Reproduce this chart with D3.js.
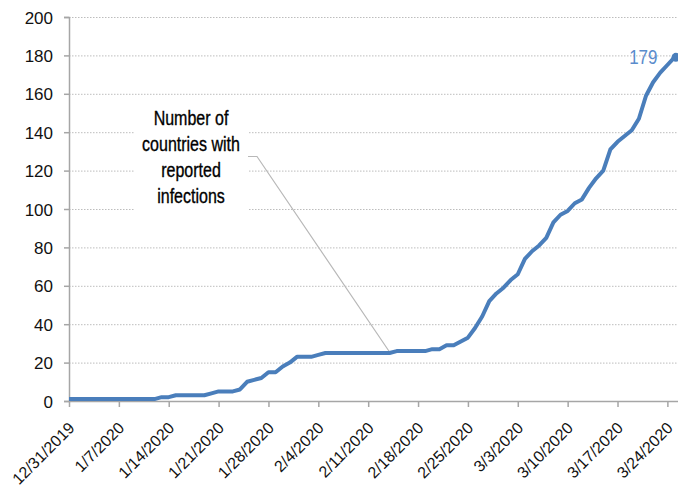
<!DOCTYPE html>
<html>
<head>
<meta charset="utf-8">
<script src="https://cdn.jsdelivr.net/npm/d3@7"></script>
<style>
  body { margin: 0; background: #fff; }
  svg { display: block; }
</style>
</head>
<body>
<div id="chart"></div>
<script>
// countries with reported infections, one value per day from 12/31/2019
let startDate = new Date(2019, 11, 31)
let counts = [
    1, 1, 1, 1, 1, 1, 1, 1, 1, 1, 1, 1, 1,
    2, 2,
    3, 3, 3, 3, 3,
    4,
    5, 5, 5,
    6,
    10, 11, 12, 15, 15, 18, 20,
    23, 23, 23,
    24,
    25, 25, 25, 25, 25, 25, 25, 25, 25, 25,
    26, 26, 26, 26, 26,
    27, 27, 29, 29, 31, 33, 38, 44, 52, 56, 59, 63, 66, 74, 78, 81, 85, 93, 97, 99,
    103, 105, 111, 116, 120, 131, 135, 138, 141, 147, 159, 166, 171, 175, 179
]
let tickLabels = ['12/31/2019', '1/7/2020', '1/14/2020', '1/21/2020', '1/28/2020', '2/4/2020',
    '2/11/2020', '2/18/2020', '2/25/2020', '3/3/2020', '3/10/2020', '3/17/2020', '3/24/2020']
let yTicks = [0, 20, 40, 60, 80, 100, 120, 140, 160, 180, 200]
let noteLines = ['Number of', 'countries with', 'reported', 'infections']
let noteDay = 45

let data = counts.map((v, i) => ({ date: d3.timeDay.offset(startDate, i), value: v }))
let tickDates = tickLabels.map(t => d3.timeParse('%m/%d/%Y')(t))

let svgWidth = 678, svgHeight = 494
let plotLeft = 69, plotRight = 678, plotTop = 17, plotBottom = 401
let font = "'Liberation Sans', Arial, sans-serif"

let svg = d3.select('#chart').append('svg')
    .attr('width', svgWidth)
    .attr('height', svgHeight)

let x = d3.scaleTime()
    .domain([startDate, data[data.length - 1].date])
    .range([plotLeft, 674.5])

let y = d3.scaleLinear()
    .domain([0, 200])
    .range([plotBottom, plotTop])

// gridlines
svg.append('g')
    .selectAll('line')
    .data(yTicks.filter(d => d > 0))
    .enter()
    .append('line')
        .attr('x1', plotLeft)
        .attr('x2', plotRight)
        .attr('y1', d => y(d) + 0.5)
        .attr('y2', d => y(d) + 0.5)
        .attr('stroke', '#bdbdbd')
        .attr('stroke-width', 1)
        .attr('stroke-dasharray', '1.5,1.5')

// y axis
let yAxis = svg.append('g')
    .attr('transform', `translate(${plotLeft}, 0)`)
    .call(d3.axisLeft(y).tickValues(yTicks).tickSize(5).tickPadding(11))
yAxis.select('.domain').attr('stroke', '#a6a6a6').attr('stroke-width', 1.5)
yAxis.selectAll('.tick line').attr('stroke', '#a6a6a6').attr('stroke-width', 1.5)
yAxis.selectAll('text')
    .style('font-family', font)
    .style('font-size', '17px')
    .attr('fill', '#111')
    .attr('dy', '0.36em')

// x axis
let xAxis = svg.append('g')
    .attr('transform', `translate(0, ${plotBottom})`)
    .call(d3.axisBottom(x).tickValues(tickDates).tickSize(6)
        .tickFormat((d, i) => tickLabels[i]).tickSizeOuter(0))
xAxis.select('.domain').attr('stroke', '#a6a6a6').attr('stroke-width', 1.5)
    .attr('d', `M${plotLeft},0.5H${plotRight}`)
xAxis.selectAll('.tick line').attr('stroke', '#a6a6a6').attr('stroke-width', 1.5)
xAxis.selectAll('text')
    .style('font-family', font)
    .style('font-size', '16px')
    .attr('fill', '#111')
    .attr('text-anchor', 'end')
    .attr('dy', 0)
    .attr('y', 0)
    .attr('transform', 'translate(6, 28) rotate(-45)')

// annotation box + leader line
let noteX = 191, noteTop = 100
svg.append('rect')
    .attr('x', 134)
    .attr('y', noteTop)
    .attr('width', 114)
    .attr('height', 112)
    .attr('fill', '#fff')

svg.append('polyline')
    .attr('points', `248,156.5 257,156.5 ${x(data[noteDay].date)},${y(data[noteDay].value) - 1}`)
    .attr('fill', 'none')
    .attr('stroke', '#b8b8b8')
    .attr('stroke-width', 1.2)

// narrow look: squeeze a regular sans horizontally
svg.append('g')
    .attr('transform', `translate(${noteX}, 0) scale(0.8, 1)`)
    .selectAll('text')
    .data(noteLines)
    .enter()
    .append('text')
        .attr('x', 0)
        .attr('y', (d, i) => 125 + i * 26)
        .attr('text-anchor', 'middle')
        .style('font-family', font)
        .style('font-size', '20px')
        .attr('fill', '#000')
        .attr('stroke', '#000')
        .attr('stroke-width', 0.35)
        .text(d => d)

// the line
let line = d3.line()
    .x(d => x(d.date))
    .y(d => y(d.value))

svg.append('path')
    .datum(data)
    .attr('d', line)
    .attr('fill', 'none')
    .attr('stroke', '#4a7ebb')
    .attr('stroke-width', 4)
    .attr('stroke-linejoin', 'round')

let last = data[data.length - 1]
svg.append('circle')
    .attr('cx', x(last.date) + 1.5)
    .attr('cy', y(last.value))
    .attr('r', 4.5)
    .attr('fill', '#4a7ebb')

svg.append('text')
    .attr('transform', `translate(${x(last.date) - 17}, ${y(last.value) + 7}) scale(0.85, 1)`)
    .attr('text-anchor', 'end')
    .style('font-family', font)
    .style('font-size', '20px')
    .attr('fill', '#5a8ccc')
    .text(last.value)
</script>
</body>
</html>
